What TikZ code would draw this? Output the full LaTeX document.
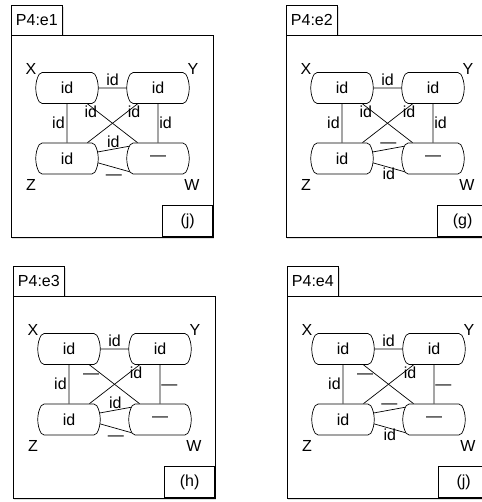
\documentclass[tikz,border=0pt]{standalone}
\usepackage{fontspec}
\setmainfont{Liberation Sans}
\usetikzlibrary{shapes.misc,shadows}
\tikzset{
	obj/.style={rounded rectangle,rounded rectangle arc length=60,draw,rounded corners=2pt,minimum width=50pt,minimum height=31pt,inner sep=0pt},
	lbl/.style={inner sep=1pt,text height=11pt,text depth=0pt},
	frm/.style={draw,fill=white,drop shadow={shadow xshift=1.2pt,shadow yshift=-1.5pt,opacity=0.25}},
}
\newcommand{\objnode}[4][]{\node[obj,#1] at (#2) (#3) {#4}}

\begin{document}
\begin{tikzpicture}[x=1pt,y=-1pt,line width=0.7pt,font=\fontsize{16}{19}\selectfont]
	\useasboundingbox (0,0) rectangle (481,502);
	\foreach \n/\dx/\dy/\ttl/\tg/\lyw/\lxw/\lup/\ldn in {1/0/0/P4:e1/j/id/id/id/—,2/275/0/P4:e2/g/id/id/—/id,3/2/261/P4:e3/h/—/—/id/—,4/276/261/P4:e4/j/—/—/—/id}{
		\begin{scope}[shift={(\dx,\dy)}]
			\node[frm,minimum width=51pt,minimum height=30pt,anchor=north west,inner sep=0pt] at (11,5) (tab\n) {\ttl};
			\draw[frm] (11,35) rectangle (213,237);
			\node[draw,minimum width=50pt,minimum height=31pt,anchor=south east,inner sep=0pt] at (213,237) (tag\n) {(\tg)};
			
			\node at (31,69) (lx\n) {X};
			\node at (193,69) (ly\n) {Y};
			\node at (31,185) (lz\n) {Z};
			\node at (192,185) (lw\n) {W};
			
			\objnode{67,88}{x\n}{id};
			\objnode{158,88}{y\n}{id};
			\objnode{67,158.5}{z\n}{id};
			\objnode{158,158.5}{w\n}{—};
			
			\draw (x\n) -- node[lbl,above=1pt] {id} (y\n);
			\draw (x\n) -- node[lbl,left=1pt] {id} (z\n);
			\draw (y\n) -- node[lbl,right=0pt] {\lyw} (w\n);
			\draw (x\n) -- node[lbl,pos=.22,left=0pt] {\lxw} (w\n);
			\draw (y\n) -- node[lbl,pos=.22,right=0pt] {id} (z\n);
			\draw (z\n.12) -- node[lbl,above=0pt] {\lup} (w\n.157);
			\draw (z\n.352) -- node[lbl,below=0pt] {\ldn} (w\n.205);
		\end{scope}
	}
\end{tikzpicture}
\end{document}
